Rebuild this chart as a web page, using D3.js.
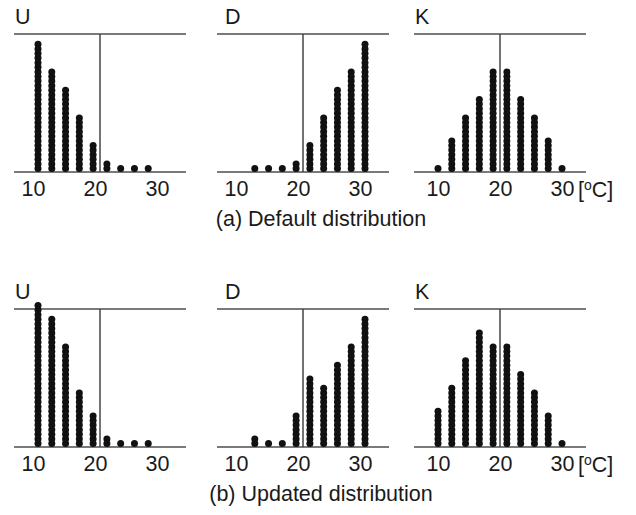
<!DOCTYPE html>
<html>
<head>
<meta charset="utf-8">
<script src="https://cdn.jsdelivr.net/npm/d3@7"></script>
<style>
  body { margin: 0; background: #fff; }
  text { font-family: "Liberation Sans", Arial, sans-serif; fill: #1a1a1a; }
</style>
</head>
<body>
<div id="chart"></div>
<script>
const panelNames = ['U', 'D', 'K'];
const captions = ['(a) Default distribution', '(b) Updated distribution'];
const bins = ['10-12', '12-14', '14-16', '16-18', '18-20', '20-22', '22-24', '24-26', '26-28', '28-30'];
const tickValues = [10, 20, 30];
const unitLabel = 'C]';

// dot counts per bin
const defaultU = [28, 22, 18, 12, 6, 2, 1, 1, 1, 0];
const defaultD = [0, 1, 1, 1, 2, 6, 12, 18, 22, 28];
const defaultK = [1, 7, 12, 16, 22, 22, 16, 12, 7, 1];
const updatedU = [31, 28, 22, 12, 7, 2, 1, 1, 1, 0];
const updatedD = [0, 2, 1, 1, 7, 15, 13, 18, 22, 28];
const updatedK = [8, 13, 19, 25, 22, 22, 16, 12, 7, 1];

const rows = [
  { caption: captions[0], series: [defaultU, defaultD, defaultK] },
  { caption: captions[1], series: [updatedU, updatedD, updatedK] },
];

const width = 636;
const height = 515;
const rowTop = [34, 309];
const panelH = 138;
const panelCx = [100, 303, 500];
const labelDx = [-5, -5, 0];
const halfW = 86;
const tickHalf = 62;
const r = 3.5;
const step = 4.6;
const fontSize = 21.5;

const svg = d3.select('#chart')
  .append('svg')
  .attr('width', width)
  .attr('height', height);

rows.forEach((row, ri) => {
  const top = rowTop[ri];
  const base = top + panelH;

  row.series.forEach((counts, pi) => {
    const cx = panelCx[pi];
    const x = d3.scaleLinear().domain([10, 30]).range([cx - tickHalf, cx + tickHalf]);
    const xb = d3.scalePoint().domain(bins).range([x(10), x(30)]);
    const y = d3.scaleLinear().domain([0, 30]).range([base - r, base - r - 30 * step]);

    const p = svg.append('g');

    // frame lines
    p.append('line')
      .attr('x1', cx - halfW).attr('x2', cx + halfW)
      .attr('y1', top).attr('y2', top)
      .attr('stroke', '#7a7a7a').attr('stroke-width', 2);
    p.append('line')
      .attr('x1', cx - halfW).attr('x2', cx + halfW)
      .attr('y1', base).attr('y2', base)
      .attr('stroke', '#7a7a7a').attr('stroke-width', 2);
    p.append('line')
      .attr('x1', x(20)).attr('x2', x(20))
      .attr('y1', top).attr('y2', base)
      .attr('stroke', '#444').attr('stroke-width', 1.5);

    // dots
    const dots = [];
    bins.forEach((b, i) => d3.range(counts[i]).forEach(k => dots.push({ bin: b, k })));
    p.append('g')
      .attr('fill', '#111')
      .selectAll('circle')
      .data(dots)
      .join('circle')
        .attr('cx', d => xb(d.bin))
        .attr('cy', d => y(d.k))
        .attr('r', r);

    // axis labels
    const ax = p.append('g')
      .attr('transform', `translate(${labelDx[pi]},${base})`)
      .call(d3.axisBottom(x).tickValues(tickValues).tickSize(0).tickPadding(9))
      .attr('font-size', fontSize)
      .attr('font-family', null);
    ax.select('.domain').remove();
    ax.selectAll('text').attr('fill', '#1a1a1a');

    if (pi === 2) {
      const u = p.append('text')
        .attr('x', x(30) + 16)
        .attr('y', base + 25)
        .attr('font-size', fontSize);
      u.append('tspan').text('[');
      u.append('tspan').attr('font-size', 14).attr('dy', -7).text('o');
      u.append('tspan').attr('dy', 7).text(unitLabel);
    }

    // panel title
    p.append('text')
      .attr('x', cx - halfW + (pi === 1 ? 8 : 1))
      .attr('y', top - 10)
      .attr('font-size', fontSize)
      .text(panelNames[pi]);
  });

  svg.append('text')
    .attr('x', 321)
    .attr('y', base + 54)
    .attr('text-anchor', 'middle')
    .attr('font-size', fontSize)
    .text(row.caption);
});
</script>
</body>
</html>
